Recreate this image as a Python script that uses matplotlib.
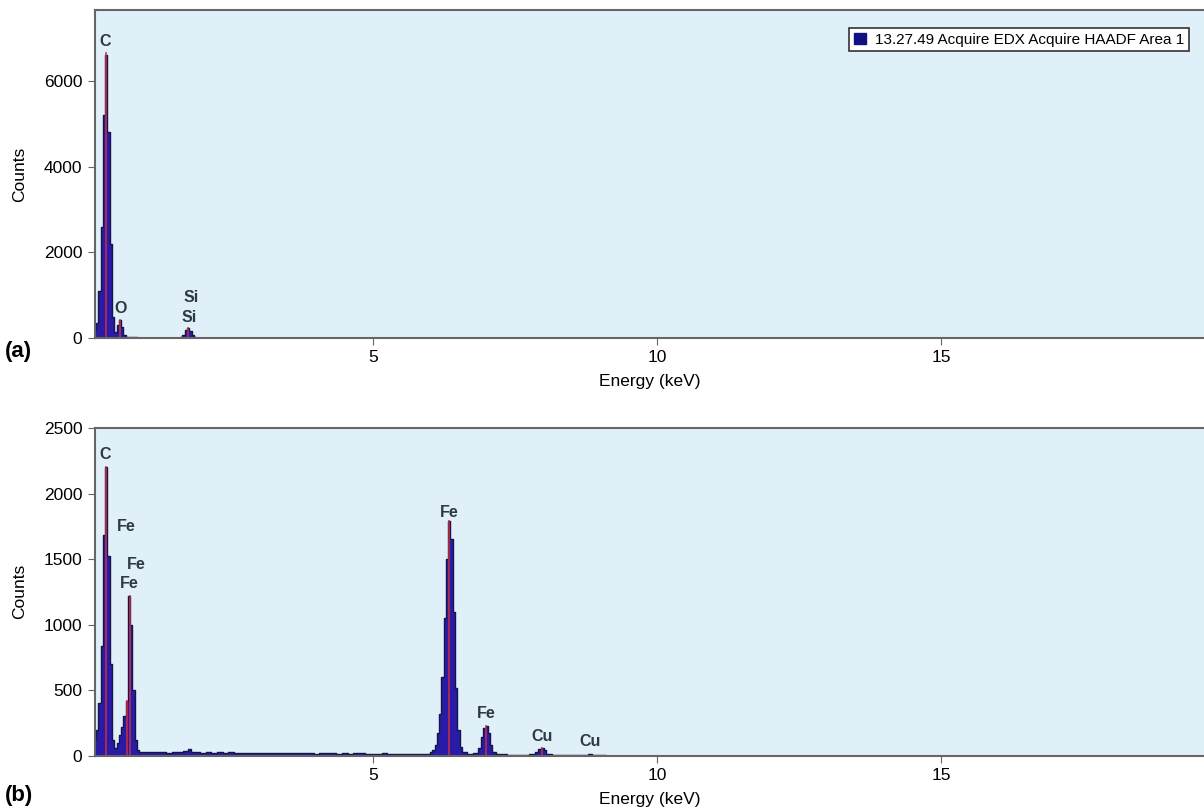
import matplotlib
matplotlib.use('Agg')
from matplotlib import pyplot as plt
from matplotlib.patches import Patch

plt.rcParams['font.family'] = ['Liberation Sans', 'DejaVu Sans']

# spectrum (a): energy channels (keV) and counts
energy_a = [0.10, 0.14, 0.18, 0.22, 0.26, 0.30, 0.34, 0.38, 0.42, 0.46,
            0.50, 0.54, 0.58, 0.62, 0.66, 0.70, 0.74, 0.78, 0.82, 0.86,
            0.90, 0.94, 1.58, 1.62, 1.66, 1.70, 1.74, 1.78, 1.82, 1.86,
            1.90, 19.70]
counts_a = [180, 350, 1100, 2600, 5200, 6600, 4800, 2200, 500, 150,
            300, 420, 250, 70, 20, 15, 25, 20, 15, 10,
            5, 0, 0, 20, 80, 180, 230, 170, 70, 20,
            0, 0]

# spectrum (b)
energy_b = [0.10, 0.14, 0.18, 0.22, 0.26, 0.30, 0.34, 0.38, 0.42, 0.46,
            0.50, 0.54, 0.58, 0.62, 0.66, 0.70, 0.74, 0.78, 0.82, 0.86,
            0.90, 1.00, 1.10, 1.20, 1.30, 1.40, 1.50, 1.60, 1.70, 1.76,
            1.82, 1.90, 2.00, 2.10, 2.20, 2.30, 2.40, 2.50, 2.60, 2.70,
            2.80, 2.90, 3.00, 3.10, 3.20, 3.30, 3.40, 3.50, 3.60, 3.70,
            3.80, 3.90, 4.00, 4.10, 4.20, 4.30, 4.40, 4.50, 4.60, 4.70,
            4.80, 4.90, 5.00, 5.10, 5.20, 5.30, 5.40, 5.50, 5.60, 5.70,
            5.80, 5.90, 5.98, 6.02, 6.06, 6.10, 6.14, 6.18, 6.22, 6.26,
            6.30, 6.34, 6.38, 6.42, 6.46, 6.50, 6.54, 6.60, 6.70, 6.80,
            6.88, 6.92, 6.96, 7.00, 7.04, 7.08, 7.12, 7.20, 7.30, 7.40,
            7.50, 7.60, 7.70, 7.80, 7.88, 7.94, 7.98, 8.02, 8.08, 8.20,
            8.40, 8.60, 8.76, 8.82, 8.88, 9.00, 9.20, 19.70]
counts_b = [120, 200, 400, 840, 1680, 2200, 1520, 700, 120, 60,
            100, 160, 220, 300, 420, 1220, 1000, 500, 120, 40,
            30, 28, 25, 32, 27, 24, 30, 26, 35, 48,
            30, 27, 24, 28, 22, 25, 21, 26, 23, 20,
            24, 21, 19, 23, 20, 18, 22, 19, 21, 17,
            20, 18, 16, 19, 17, 20, 16, 18, 15, 17,
            19, 15, 16, 14, 17, 15, 13, 16, 14, 12,
            14, 12, 15, 25, 40, 80, 170, 320, 600, 1050,
            1500, 1790, 1650, 1100, 520, 200, 70, 25, 15, 20,
            60, 140, 210, 230, 170, 80, 25, 12, 10, 8,
            9, 7, 8, 10, 30, 55, 60, 40, 12, 6,
            5, 4, 8, 12, 6, 3, 1, 0]

# element marker lines (energy, height) and labels (text, energy, counts)
lines_a = [(0.30, 6650), (0.54, 420), (1.74, 230)]
labels_a = [('C', 0.28, 6920), ('O', 0.55, 690), ('Si', 1.79, 950), ('Si', 1.75, 480)]
lines_b = [(0.30, 2200), (0.67, 420), (0.71, 1220), (6.34, 1790), (6.99, 230), (7.97, 60)]
labels_b = [('C', 0.28, 2300), ('Fe', 0.65, 1752), ('Fe', 0.83, 1455), ('Fe', 0.71, 1310),
            ('Fe', 6.34, 1852), ('Fe', 6.99, 325), ('Cu', 7.97, 143), ('Cu', 8.82, 105)]

xlim = (0.1, 19.63)
bg = '#e0f0f9'
fill = '#2a1aa8'
edge = '#15154a'
marker_red = '#c8303c'
spine = '#666666'

fig = plt.figure(figsize=(12.04, 8.08), dpi=100)
ax_a = fig.add_axes([0.0789, 0.5817, 0.9211, 0.4059])
ax_b = fig.add_axes([0.0789, 0.0647, 0.9211, 0.4056])


def draw_spectrum(ax, energy, counts, lines, labels, ymax, yticks):
    ax.set_facecolor(bg)
    ax.fill_between(energy, counts, step='mid', color=fill, lw=0)
    ax.step(energy, counts, where='mid', color=edge, lw=1.0)
    for e, h in lines:
        ax.plot([e, e], [0, h], color=marker_red, lw=1.3, alpha=0.85)
    for txt, e, c in labels:
        ax.text(e, c, txt, ha='center', va='center', fontsize=11.5,
                fontweight='bold', color='#2b3a44')
    ax.set_xlim(*xlim)
    ax.set_ylim(0, ymax)
    ax.set_xticks([5, 10, 15])
    ax.set_yticks(yticks)
    ax.tick_params(labelsize=12.5, length=5, color=spine, pad=4)
    ax.set_xlabel('Energy (keV)', fontsize=12.5, labelpad=6)
    ax.set_ylabel('Counts', fontsize=12.5, labelpad=12)
    for side in ['left', 'bottom', 'top']:
        ax.spines[side].set_color(spine)
        ax.spines[side].set_linewidth(1.5)
    ax.spines['right'].set_visible(False)


draw_spectrum(ax_a, energy_a, counts_a, lines_a, labels_a, 7660, [0, 2000, 4000, 6000])
draw_spectrum(ax_b, energy_b, counts_b, lines_b, labels_b, 2500, [0, 500, 1000, 1500, 2000, 2500])

leg = ax_a.legend(handles=[Patch(facecolor='#101080', edgecolor='#101080')],
                  labels=['13.27.49 Acquire EDX Acquire HAADF Area 1'],
                  loc='upper right', bbox_to_anchor=(0.9935, 0.968), fontsize=11,
                  fancybox=False, framealpha=1, edgecolor='#333333',
                  handlelength=0.8, handleheight=0.8, handletextpad=0.6,
                  borderpad=0.3)
leg.get_frame().set_linewidth(1.2)

fig.text(0.004, 0.565, '(a)', fontsize=16, fontweight='bold', va='center')
fig.text(0.004, 0.016, '(b)', fontsize=16, fontweight='bold', va='center')

fig.savefig('out.png', dpi=100)
